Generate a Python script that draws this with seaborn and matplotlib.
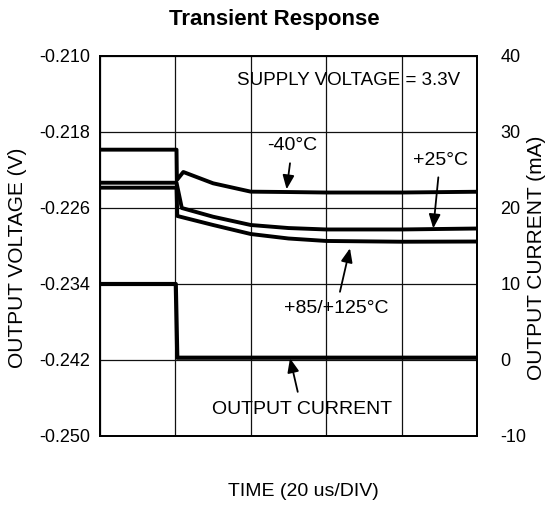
import numpy as np
import pandas as pd
import seaborn as sns
import matplotlib
matplotlib.use("Agg")
import matplotlib.pyplot as plt

# time in us (5 divisions of 20 us), voltages in V, current in mA
t_40 = [0, 20.3, 20.4, 22.1, 30, 40, 50, 60, 80, 100]
v_40 = [-0.21986, -0.21986, -0.22305, -0.22221, -0.22340, -0.22428, -0.22432, -0.22437, -0.22437, -0.22429]

t_25 = [0, 20.3, 21.7, 30, 40, 50, 60, 80, 100]
v_25 = [-0.22334, -0.22334, -0.22600, -0.22692, -0.22779, -0.22811, -0.22826, -0.22826, -0.22816]

t_85 = [0, 20.3, 20.5, 30, 40, 50, 60, 80, 100]
v_85 = [-0.22386, -0.22386, -0.22684, -0.22779, -0.22874, -0.22921, -0.22947, -0.22955, -0.22953]

t_cur = [0, 20.1, 20.5, 100]
i_cur = [10, 10, 0.3, 0.3]

v_ticks = [-0.250, -0.242, -0.234, -0.226, -0.218, -0.210]
i_ticks = [-10, 0, 10, 20, 30, 40]

df = pd.concat([
    pd.DataFrame({"time": t_40, "volt": v_40, "curve": "-40"}),
    pd.DataFrame({"time": t_25, "volt": v_25, "curve": "+25"}),
    pd.DataFrame({"time": t_85, "volt": v_85, "curve": "+85"}),
])
cur = pd.DataFrame({"time": t_cur, "current": i_cur})

sns.set_style("white", {"text.color": "black", "axes.labelcolor": "black",
                        "xtick.color": "black", "ytick.color": "black",
                        "axes.edgecolor": "black"})
plt.rcParams["font.family"] = ["Liberation Sans", "DejaVu Sans"]

fig = plt.figure(figsize=(5.48, 5.08), dpi=100)
ax = fig.add_axes([100 / 548, 1 - 436 / 508, 377 / 548, 380 / 508])

sns.lineplot(data=df, x="time", y="volt", hue="curve", units="curve",
             palette=["black"] * 3, estimator=None, sort=False,
             legend=False, linewidth=2.8, ax=ax)

ax.set_xlim(0, 100)
ax.set_ylim(-0.250, -0.210)
ax.set_xticks([0, 20, 40, 60, 80, 100])
ax.set_xticklabels([])
ax.set_yticks(v_ticks)
ax.set_yticklabels([f"{v:.3f}" for v in v_ticks])
ax.tick_params(axis="both", length=0, labelsize=13)
ax.tick_params(axis="y", pad=7)
ax.grid(True, color="#111111", linewidth=0.9)
for s in ax.spines.values():
    s.set_color("black")
    s.set_linewidth(1.3)
ax.set_xlabel("")
ax.set_ylabel("OUTPUT VOLTAGE (V)", fontsize=15, va="center")
ax.yaxis.set_label_coords((18 - 100) / 377, 0.47)

ax2 = ax.twinx()
sns.lineplot(data=cur, x="time", y="current", color="black", estimator=None,
             sort=False, linewidth=3.0, ax=ax2)
ax2.set_ylim(-10, 40)
ax2.set_yticks(i_ticks)
ax2.set_yticklabels([str(v) for v in i_ticks])
ax2.tick_params(axis="y", length=0, labelsize=13, pad=17)
ax2.grid(False)
ax2.set_ylabel("OUTPUT CURRENT (mA)", fontsize=15, rotation=90, va="center")
ax2.yaxis.set_label_coords((537 - 100) / 377, 0.47)
for s in ax2.spines.values():
    s.set_color("black")
    s.set_linewidth(1.3)

fig.text(0.5, 1 - 20 / 508, "Transient Response", ha="center", va="center",
         fontsize=16, fontweight="bold")
fig.text(303 / 548, 1 - 492 / 508, "TIME (20 us/DIV)", ha="center", va="center",
         fontsize=14)

ax.text(95.5, -0.21253, "SUPPLY VOLTAGE = 3.3V", ha="right", va="center", fontsize=13.5)

arrow = dict(arrowstyle="-|>,head_length=0.6,head_width=0.25", color="black",
             lw=1.3, shrinkA=4, shrinkB=0)
ax.annotate("-40°C", xy=(49.5, -0.22403), xytext=(51.0, -0.21947),
            ha="center", va="center", fontsize=14, arrowprops=arrow)
ax.annotate("+25°C", xy=(88.4, -0.22814), xytext=(90.2, -0.22095),
            ha="center", va="center", fontsize=14, arrowprops=arrow)
ax.annotate("+85/+125°C", xy=(66.3, -0.23024), xytext=(62.6, -0.23663),
            ha="center", va="center", fontsize=14, arrowprops=arrow)
ax.annotate("OUTPUT CURRENT", xy=(50.4, -0.24182), xytext=(53.5, -0.24716),
            ha="center", va="center", fontsize=14, arrowprops=arrow)

fig.savefig("out.png", dpi=100)
